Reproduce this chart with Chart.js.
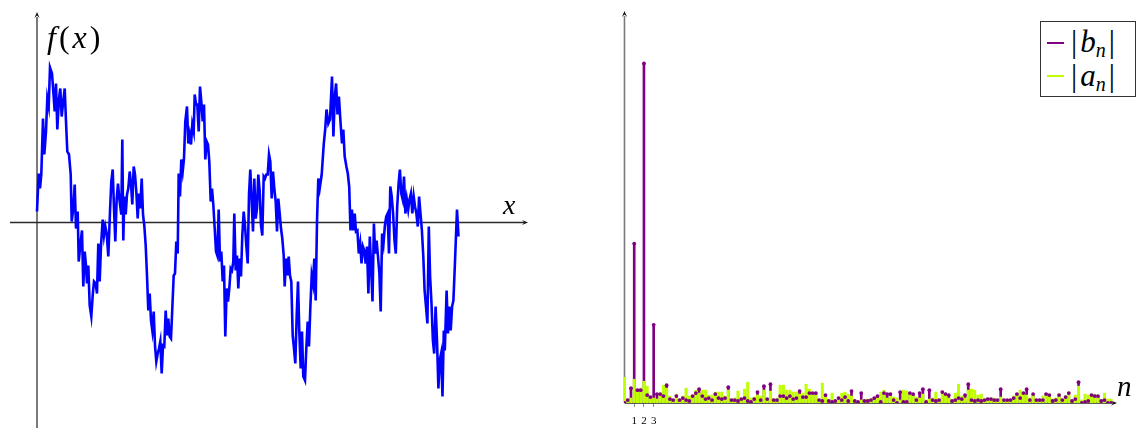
<!DOCTYPE html>
<html>
<head>
<meta charset="utf-8">
<script src="https://cdn.jsdelivr.net/npm/chart.js@4.4.0/dist/chart.umd.min.js"></script>
<style>
  html, body { margin: 0; padding: 0; background: #fff; width: 1148px; height: 428px; overflow: hidden; }
  .panel { position: absolute; top: 0; }
  .tx { position: absolute; font-family: 'Liberation Serif', 'DejaVu Serif', serif; color: #000; line-height: 1; white-space: nowrap; }
  .it { font-style: italic; }
  .gap { margin-left: 3px; }
  #legend { position: absolute; left: 1040px; top: 21px; width: 94px; height: 74px; border: 1px solid #333; background: #fff; }
  #legend .sw { position: absolute; left: 6px; width: 17px; height: 1.5px; }
  #legend .tx { font-size: 31px; }
  #legend sub { font-size: 20px; font-style: italic; vertical-align: -5px; }
</style>
</head>
<body>
<div class="panel" style="left:0;width:540px;height:428px;"><canvas id="signal" width="540" height="428"></canvas></div>
<div class="panel" style="left:600px;width:548px;height:428px;"><canvas id="spectrum" width="548" height="428"></canvas></div>

<div class="tx" style="left:47px;top:21px;font-size:32px;letter-spacing:3px;"><span class="it">f</span>(<span class="it">x</span>)</div>
<div class="tx it" style="left:503px;top:191px;font-size:28px;">x</div>
<div class="tx it" style="left:1117px;top:372px;font-size:29px;">n</div>

<div id="legend">
  <div class="sw" style="top:20px;background:#800080;"></div>
  <div class="tx" style="left:30px;top:4px;">|<span class="it gap">b</span><sub>n</sub><span class="gap">|</span></div>
  <div class="sw" style="top:53px;background:#bfff00;"></div>
  <div class="tx" style="left:30px;top:38px;">|<span class="it gap">a</span><sub>n</sub><span class="gap">|</span></div>
</div>

<script>
// Sampled signal f(x): sample positions and values
const fxX = [
  0, 1.7, 3.0, 4.3, 6.0, 7.3, 9.0, 10.3, 11.7, 13.0,
  15.0, 16.3, 17.7, 19.0, 20.3, 22.0, 23.3, 24.7, 26.0, 27.7,
  29.0, 30.3, 32.0, 33.7, 34.7, 36.3, 37.7, 39.0, 40.7, 41.7,
  43.7, 45.0, 46.3, 47.7, 49.0, 50.0, 51.3, 52.7, 54.3, 55.7,
  57.0, 58.7, 60.0, 61.3, 62.7, 64.0, 65.7, 67.0, 68.3, 69.7,
  71.3, 73.0, 74.3, 75.7, 77.0, 78.3, 79.7, 81.0, 82.3, 84.3,
  85.3, 86.3, 87.3, 88.7, 90.0, 91.3, 92.7, 94.0, 95.3, 96.7,
  98.0, 99.3, 100.7, 102.0, 103.3, 104.7, 106.0, 107.3, 108.7, 110.0,
  111.3, 112.7, 114.0, 115.3, 116.7, 118.0, 119.3, 120.7, 122.0, 123.3,
  124.7, 126.0, 127.3, 128.7, 130.0, 131.3, 132.7, 134.0, 135.3, 136.7,
  138.0, 139.3, 140.7, 141.7, 143.0, 144.3, 145.7, 147.0, 148.3, 150.0,
  151.3, 152.7, 154.0, 155.3, 156.7, 157.7, 159.0, 160.3, 161.7, 163.0,
  164.3, 165.7, 167.0, 168.3, 169.7, 171.0, 172.3, 173.7, 175.0, 176.3,
  177.7, 179.0, 180.3, 181.7, 183.0, 184.3, 185.7, 187.0, 188.3, 189.7,
  191.0, 192.3, 193.7, 195.0, 196.3, 197.3, 198.7, 200.0, 201.3, 202.7,
  204.0, 205.3, 206.7, 208.0, 209.3, 210.7, 212.0, 213.3, 214.7, 216.0,
  217.3, 218.7, 220.0, 221.3, 222.7, 224.0, 225.3, 226.7, 228.0, 229.3,
  230.7, 232.0, 233.3, 234.7, 236.0, 237.3, 238.7, 240.0, 241.3, 242.7,
  244.0, 245.3, 246.7, 247.7, 249.0, 250.3, 251.7, 253.0, 254.3, 255.7,
  257.0, 258.3, 259.7, 261.0, 262.3, 263.7, 265.0, 266.3, 268.0, 269.3,
  270.7, 272.0, 273.3, 274.7, 276.0, 277.3, 278.7, 280.0, 281.3, 282.7,
  284.7, 286.8, 288.2, 289.5, 291.3, 293.0, 295.0, 296.4, 297.8, 299.1,
  300.5, 301.9, 303.6, 305.0, 306.3, 307.7, 309.4, 310.8, 312.2, 313.5,
  314.9, 316.3, 317.7, 319.0, 320.4, 321.8, 323.2, 324.5, 325.9, 327.3,
  328.6, 330.0, 331.4, 332.8, 334.1, 335.5, 336.9, 338.2, 339.6, 341.0,
  342.4, 343.7, 345.1, 346.5, 347.8, 349.2, 350.6, 352.0, 353.3, 354.7,
  356.1, 357.5, 358.8, 360.2, 361.6, 362.9, 364.3, 365.7, 367.0, 368.4,
  369.8, 371.2, 372.5, 373.9, 375.3, 376.7, 378.0, 379.4, 380.8, 382.1,
  383.5, 384.9, 386.3, 387.6, 389.0, 390.4, 391.8, 393.1, 394.5, 395.9,
  397.2, 398.6, 400.0, 401.4, 402.7, 404.1, 405.5, 406.8, 407.8, 409.6,
  411.0, 412.3, 413.7, 415.1, 416.4, 417.8, 420.0, 421.5
];
const fxY = [
  0.11, 0.49, 0.34, 0.48, 1.04, 0.68, 0.91, 1.24, 1.16, 1.55,
  1.49, 1.31, 1.11, 1.39, 0.93, 1.24, 1.34, 1.06, 1.19, 1.34,
  1.01, 0.71, 0.68, 0.48, 0.01, 0.14, 0.38, -0.06, 0.11, -0.39,
  -0.19, -0.08, -0.64, -0.29, -0.43, -0.61, -0.43, -0.83, -0.94, -0.73,
  -0.59, -0.61, -0.71, -0.21, -0.59, -0.23, 0.03, -0.13, -0.04, -0.11,
  -0.34, 0.11, 0.41, 0.53, 0.14, -0.19, 0.24, 0.39, 0.24, 0.08,
  0.83, -0.18, 0.26, 0.08, 0.28, 0.34, 0.51, 0.39, 0.18, 0.56,
  0.48, 0.31, 0.04, 0.29, 0.14, 0.44, 0.08, -0.03, -0.23, -0.53,
  -0.88, -0.71, -0.98, -1.08, -0.89, -1.23, -1.39, -1.31, -1.26, -1.19,
  -1.51, -1.23, -1.24, -0.88, -1.13, -0.96, -1.14, -1.16, -0.86, -0.53,
  -0.51, -0.19, -0.31, 0.49, 0.26, 0.63, 0.51, 0.64, 1.01, 1.16,
  0.79, 0.88, 0.78, 0.98, 0.91, 1.28, 1.18, 1.18, 0.91, 1.36,
  1.21, 1.01, 1.18, 0.63, 0.81, 0.78, 0.61, 0.21, 0.34, 0.18,
  -0.06, -0.29, -0.33, 0.13, -0.39, -0.29, -0.59, -0.43, -1.14, -0.66,
  -0.79, -0.66, -0.46, -0.48, -0.39, 0.09, -0.48, -0.33, -0.66, -0.36,
  -0.54, -0.13, 0.11, -0.03, -0.23, -0.41, 0.28, 0.53, 0.21, -0.09,
  0.44, 0.04, 0.14, 0.48, 0.31, -0.03, -0.13, 0.46, 0.44, 0.48,
  0.48, 0.68, 0.61, 0.24, 0.51, 0.34, 0.21, -0.09, 0.24, 0.09,
  -0.06, -0.16, -0.33, -0.64, -0.36, -0.53, -0.34, -0.53, -0.59, -1.13,
  -1.26, -1.41, -0.93, -0.59, -1.09, -1.46, -1.09, -1.54, -1.58, -1.26,
  -0.99, -1.24, -0.86, -0.53, -0.61, -0.36, -0.78, 0.01, 0.44, 0.34,
  0.48, 0.79, 0.93, 1.13, 0.99, 1.03, 1.46, 0.86, 1.26, 1.39,
  1.08, 1.26, 0.99, 0.79, 0.93, 0.66, 0.56, 0.49, 0.36, -0.08,
  0.13, -0.08, 0.09, -0.09, -0.08, -0.31, -0.21, -0.41, -0.24, -0.28,
  -0.41, -0.24, -0.71, -0.14, -0.44, -0.79, -0.01, -0.31, -0.18, -0.34,
  -0.51, -0.89, -0.11, -0.21, -0.04, 0.06, 0.09, -0.31, 0.36, 0.26,
  0.09, -0.18, -0.31, 0.16, 0.39, 0.53, 0.29, 0.23, 0.46, 0.09,
  0.23, 0.13, 0.23, 0.29, 0.09, 0.26, 0.16, 0.09, -0.04, 0.26,
  0.09, -0.08, -0.34, -0.68, -0.84, -1.01, -0.04, -0.54, -0.81, -1.18,
  -1.31, -0.84, -1.18, -1.66, -1.38, -1.31, -1.74, -1.08, -1.28, -0.68,
  -1.11, -0.84, -1.08, -0.84, -0.78, -0.44, 0.13, -0.14
];

// Coefficient magnitudes, three spectral lines per unit of n (n = 0, 1/3, 2/3, 1, ...)
const aMag = [
  0.26, 0.04, 0.05, 0.24, 0.14, 0.15, 0.22, 0.17, 0.07, 0.05,
  0.04, 0.10, 0.18, 0.15, 0.07, 0.03, 0.09, 0.04, 0.07, 0.15,
  0.07, 0.08, 0.13, 0.10, 0.13, 0.13, 0.08, 0.08, 0.11, 0.11,
  0.11, 0.07, 0.13, 0.04, 0.05, 0.12, 0.04, 0.14, 0.21, 0.05,
  0.06, 0.08, 0.07, 0.13, 0.04, 0.12, 0.04, 0.05, 0.18, 0.18,
  0.13, 0.13, 0.11, 0.11, 0.09, 0.10, 0.19, 0.14, 0.09, 0.08,
  0.03, 0.20, 0.06, 0.03, 0.10, 0.03, 0.06, 0.10, 0.11, 0.09,
  0.07, 0.03, 0.02, 0.03, 0.03, 0.04, 0.04, 0.03, 0.05, 0.11,
  0.13, 0.05, 0.07, 0.06, 0.05, 0.03, 0.13, 0.12, 0.09, 0.07,
  0.06, 0.05, 0.09, 0.03, 0.04, 0.05, 0.11, 0.04, 0.12, 0.10,
  0.05, 0.03, 0.10, 0.19, 0.07, 0.05, 0.13, 0.14, 0.13, 0.08,
  0.09, 0.04, 0.05, 0.05, 0.05, 0.04, 0.06, 0.03, 0.03, 0.04,
  0.07, 0.08, 0.13, 0.09, 0.08, 0.05, 0.08, 0.03, 0.04, 0.07,
  0.09, 0.08, 0.04, 0.05, 0.09, 0.04, 0.07, 0.11, 0.03, 0.08,
  0.17, 0.03, 0.09, 0.08, 0.09, 0.09, 0.05, 0.03, 0.10, 0.04,
  0.04
];
const bMag = [
  0, 0.03, 0.15, 1.61, 0.13, 0.13, 3.43, 0.08, 0.06, 0.79,
  0.09, 0.09, 0.07, 0.18, 0.04, 0.03, 0.07, 0.03, 0.05, 0.03,
  0.02, 0.07, 0.10, 0.14, 0.07, 0.04, 0.05, 0.03, 0.09, 0.05,
  0.04, 0.05, 0.16, 0.03, 0.03, 0.02, 0.04, 0.05, 0.02, 0.01,
  0.04, 0.11, 0.03, 0.17, 0.04, 0.19, 0.03, 0.03, 0.07, 0.07,
  0.05, 0.07, 0.04, 0.05, 0.12, 0.06, 0.06, 0.10, 0.10, 0.10,
  0.03, 0.02, 0.08, 0.02, 0.01, 0.02, 0.05, 0.03, 0.06, 0.02,
  0.12, 0.02, 0.01, 0.10, 0.02, 0.02, 0.03, 0.05, 0.07, 0.01,
  0.10, 0.09, 0.09, 0.03, 0, 0.11, 0.01, 0.01, 0.10, 0.09,
  0.03, 0.10, 0.14, 0.01, 0.13, 0.03, 0.02, 0.03, 0.11, 0.09,
  0.08, 0.02, 0.03, 0.05, 0.04, 0.08, 0.19, 0.03, 0.02, 0.03,
  0.02, 0.03, 0.04, 0.04, 0.03, 0.03, 0.14, 0.03, 0.03, 0.03,
  0.05, 0.09, 0.05, 0.10, 0.14, 0.03, 0.09, 0.03, 0.03, 0.03,
  0.09, 0.08, 0.02, 0.03, 0.08, 0.03, 0.06, 0.10, 0.02, 0.04,
  0.21, 0, 0.01, 0.02, 0.08, 0.07, 0.07, 0.02, 0.03, 0,
  0
];
const linesPerUnit = 3;
const nTickValues = [1, 2, 3];

const BLUE = '#0000ff', VIOLET = '#800080', LIME = '#bfff00';

// Small filled arrow head pointing in direction (dx, dy)
function arrowHead(ctx, x, y, dx, dy) {
  const len = 6, half = 2.6;
  const px = -dy, py = dx;
  ctx.beginPath();
  ctx.moveTo(x, y);
  ctx.lineTo(x - dx * len + px * half, y - dy * len + py * half);
  ctx.lineTo(x - dx * len * 0.6, y - dy * len * 0.6);
  ctx.lineTo(x - dx * len - px * half, y - dy * len - py * half);
  ctx.closePath();
  ctx.fillStyle = '#111';
  ctx.fill();
}

// Axis lines through the origin, drawn under the data
const signalAxes = {
  id: 'signalAxes',
  beforeDatasetsDraw(chart) {
    const { ctx, scales: { x, y } } = chart;
    const x0 = x.getPixelForValue(0), y0 = y.getPixelForValue(0);
    ctx.save();
    ctx.strokeStyle = '#7a7a7a';
    ctx.lineWidth = 2;
    ctx.beginPath(); ctx.moveTo(x0, chart.height); ctx.lineTo(x0, 17); ctx.stroke();
    arrowHead(ctx, x0, 12, 0, -1);
    ctx.strokeStyle = '#2a2a2a';
    ctx.lineWidth = 1.5;
    ctx.beginPath(); ctx.moveTo(x.getPixelForValue(-27), y0); ctx.lineTo(x.getPixelForValue(487), y0); ctx.stroke();
    arrowHead(ctx, x.getPixelForValue(491), y0, 1, 0);
    ctx.restore();
  }
};

const spectrumAxes = {
  id: 'spectrumAxes',
  beforeDatasetsDraw(chart) {
    const { ctx, chartArea, scales: { x, y } } = chart;
    const x0 = x.getPixelForValue(0), y0 = y.getPixelForValue(0);
    ctx.save();
    ctx.strokeStyle = '#7a7a7a';
    ctx.lineWidth = 1.6;
    ctx.beginPath(); ctx.moveTo(x0, y0); ctx.lineTo(x0, 16); ctx.stroke();
    arrowHead(ctx, x0, 11, 0, -1);
    ctx.strokeStyle = '#2a2a2a';
    ctx.lineWidth = 1.3;
    ctx.beginPath(); ctx.moveTo(x0, y0); ctx.lineTo(chartArea.right - 4, y0); ctx.stroke();
    arrowHead(ctx, chartArea.right, y0, 1, 0);
    ctx.restore();
  }
};

new Chart(document.getElementById('signal'), {
  type: 'line',
  data: {
    datasets: [{
      data: fxX.map((x, i) => ({ x, y: fxY[i] })),
      borderColor: BLUE,
      borderWidth: 2.6,
      pointRadius: 0,
      tension: 0,
      fill: false
    }]
  },
  options: {
    responsive: false,
    animation: false,
    events: [],
    layout: { padding: 0 },
    plugins: { legend: { display: false }, tooltip: { enabled: false } },
    scales: {
      x: { type: 'linear', display: false, min: -37, max: 503 },
      y: { type: 'linear', display: false, min: -2.055, max: 2.225 }
    }
  },
  plugins: [signalAxes]
});

const nPos = bMag.map((_, k) => k / linesPerUnit);
const bPoints = nPos.map((n, k) => ({ x: n, y: bMag[k] }));
const aPoints = nPos.map((n, k) => ({ x: n, y: aMag[k] }));

// Stacking: |b_n| stems underneath, |a_n| stems over them, |b_n| tip dots on top
new Chart(document.getElementById('spectrum'), {
  type: 'bar',
  data: {
    datasets: [
      { type: 'line', label: '|b_n| tips', data: bPoints, showLine: false, pointRadius: 1.9,
        pointBackgroundColor: VIOLET, pointBorderWidth: 0, order: 1 },
      { type: 'bar', label: '|a_n|', data: aPoints, backgroundColor: LIME, barThickness: 2.4,
        grouped: false, borderWidth: 0, order: 2 },
      { type: 'bar', label: '|b_n|', data: bPoints, backgroundColor: VIOLET, barThickness: 2,
        grouped: false, borderWidth: 0, order: 3 }
    ]
  },
  options: {
    responsive: false,
    animation: false,
    events: [],
    layout: { padding: { left: 24, right: 31, top: 0, bottom: 0 } },
    plugins: { legend: { display: false }, tooltip: { enabled: false } },
    scales: {
      x: {
        type: 'linear', min: -0.05, max: 50.62, offset: false,
        afterBuildTicks: s => { s.ticks = nTickValues.map(v => ({ value: v })); },
        afterFit: s => { s.height = 25; },
        grid: { drawOnChartArea: false, drawTicks: true, tickLength: 4, color: '#8a8a8a', offset: false },
        border: { display: false },
        ticks: { autoSkip: false, maxRotation: 0, padding: 8, color: '#000',
          font: { family: 'Liberation Serif', size: 11 }, callback: v => String(v) }
      },
      y: { type: 'linear', display: false, min: 0, max: 4.03 }
    }
  },
  plugins: [spectrumAxes]
});
</script>
</body>
</html>
